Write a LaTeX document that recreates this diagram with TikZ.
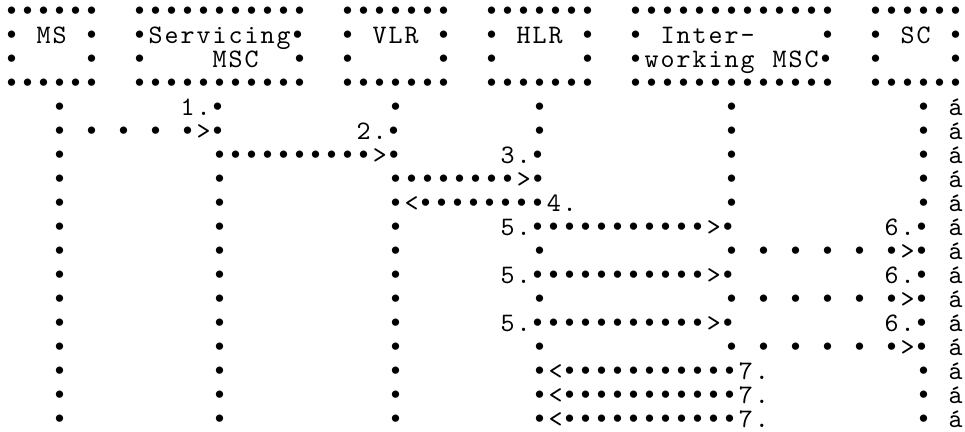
\documentclass[tikz,border=0pt]{standalone}
\usepackage{fontspec}
\newfontfamily\monofont{lmmono10-regular.otf}[LetterSpace=7.5]
\newfontfamily\bulletfont{Liberation Mono}
\begingroup\catcode`•=13
\protected\gdef•{{\kern-0.75pt\bulletfont\char"2022\kern0.75pt}}
\endgroup
\catcode`•=13
\tikzset{cell/.style={inner sep=0pt, outer sep=0pt, anchor=base west,
  font=\monofont\fontsize{20pt}{24pt}\selectfont}}
\newcommand\txrow[2]{\foreach \colx/\txt [count=\kk] in {#2}{%
  \node[cell] (r#1c\kk) at ({3.55pt+12pt*\colx},{-14.5pt-18pt*(#1-1)}) {\txt};}}
\begin{document}
\begin{tikzpicture}
\path[fill=white,use as bounding box] (0,0) rectangle (723.75pt,-324pt);
% header boxes
\txrow{1}{0/••••••,8/•••••••••••,21/•••••••,30/•••••••,39/•••••••••••••,54/••••••}
\txrow{2}{0/•,2/MS,5/•,8/•Servicing•,21/•,23/VLR,27/•,30/•,32/HLR,36/•,39/•,41/Inter-,51/•,54/•,56/SC,59/•}
\txrow{3}{0/•,5/•,8/•,13/MSC,18/•,21/•,27/•,30/•,36/•,39/•working,48/MSC•,54/•,59/•}
\txrow{4}{0/••••••,8/•••••••••••,21/•••••••,30/•••••••,39/•••••••••••••,54/••••••}
% message rows
\txrow{5}{3/•,11/1.•,24/•,33/•,45/•,57/•,59/á}
\txrow{6}{3/•,5/•,7/•,9/•,11/•>•,22/2.•,33/•,45/•,57/•,59/á}
\txrow{7}{3/•,13/••••••••••>•,31/3.•,45/•,57/•,59/á}
\txrow{8}{3/•,13/•,24/••••••••>•,45/•,57/•,59/á}
\txrow{9}{3/•,13/•,24/•<••••••••4.,45/•,57/•,59/á}
\txrow{10}{3/•,13/•,24/•,31/5.•••••••••••>•,55/6.•,59/á}
\txrow{11}{3/•,13/•,24/•,33/•,45/•,47/•,49/•,51/•,53/•,55/•>•,59/á}
\txrow{12}{3/•,13/•,24/•,31/5.•••••••••••>•,55/6.•,59/á}
\txrow{13}{3/•,13/•,24/•,33/•,45/•,47/•,49/•,51/•,53/•,55/•>•,59/á}
\txrow{14}{3/•,13/•,24/•,31/5.•••••••••••>•,55/6.•,59/á}
\txrow{15}{3/•,13/•,24/•,33/•,45/•,47/•,49/•,51/•,53/•,55/•>•,59/á}
\txrow{16}{3/•,13/•,24/•,33/•<•••••••••••7.,57/•,59/á}
\txrow{17}{3/•,13/•,24/•,33/•<•••••••••••7.,57/•,59/á}
\txrow{18}{3/•,13/•,24/•,33/•<•••••••••••7.,57/•,59/á}
\end{tikzpicture}
\end{document}
